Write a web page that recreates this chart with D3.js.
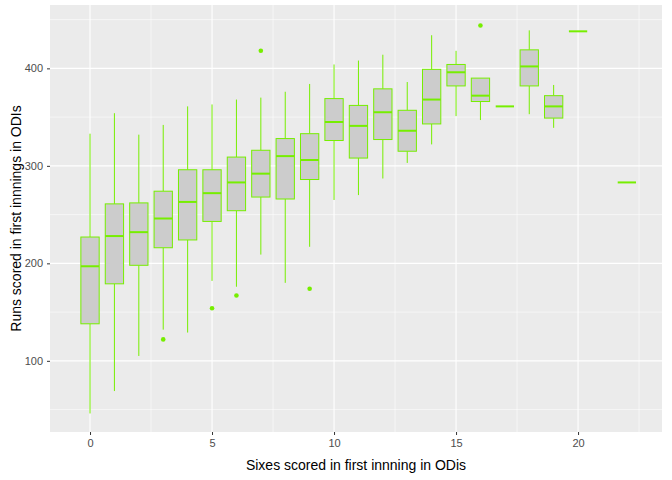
<!DOCTYPE html>
<html><head><meta charset="utf-8">
<script src="https://cdn.jsdelivr.net/npm/d3@7"></script>
<style>body{margin:0;background:#fff}text{font-family:Arial,"Liberation Sans",sans-serif}</style>
</head><body><svg id="c" width="672" height="480"></svg>
<script>
// sixes per innings and the box stats [low, q1, median, q3, high]
var sixes = [0,1,2,3,4,5,6,7,8,9,10,11,12,13,14,15,16,17,18,19,20,22]
var lows  = [46,69,105,132,129,182,176,209,180,217,265,270,287,303,322,351,347,361,353,339,438,283]
var q1s   = [138,179,198,216,224,243,254,268,266,286,326,308,327,315,343,382,366,361,382,349,438,283]
var meds  = [197,228,232,246,263,272,283,292,310,306,345,341,355,336,368,396,372,361,402,361,438,283]
var q3s   = [227,261,262,274,296,296,309,316,328,333,369,362,379,357,399,404,390,361,419,372,438,283]
var highs = [333,354,332,342,361,363,368,370,376,384,404,408,414,386,434,418,390,361,439,383,438,283]
var outX  = [3,5,6,7,9,16]
var outY  = [122,154,167,418,174,444]
var xTicks = [0,5,10,15,20]
var yTicks = [100,200,300,400]

var svg = d3.select("#c")
var L = 50, R = 662, T = 5, B = 432
var x = d3.scaleLinear().domain([-1.64, 23.44]).range([L, R])
var y = d3.scaleLinear().domain([27, 465]).range([B, T])

svg.append("rect").attr("x", L).attr("y", T).attr("width", R-L).attr("height", B-T).attr("fill", "#EBEBEB")
var g = svg.append("g")
;[-2.5,2.5,7.5,12.5,17.5,22.5].forEach(function(v){
  if (x(v) > L && x(v) < R) g.append("line").attr("x1", x(v)).attr("x2", x(v)).attr("y1", T).attr("y2", B).attr("stroke", "#fff").attr("stroke-width", 0.55)
})
;[50,150,250,350,450].forEach(function(v){
  g.append("line").attr("x1", L).attr("x2", R).attr("y1", y(v)).attr("y2", y(v)).attr("stroke", "#fff").attr("stroke-width", 0.55)
})
xTicks.forEach(function(v){
  g.append("line").attr("x1", x(v)).attr("x2", x(v)).attr("y1", T).attr("y2", B).attr("stroke", "#fff").attr("stroke-width", 1.1)
})
yTicks.forEach(function(v){
  g.append("line").attr("x1", L).attr("x2", R).attr("y1", y(v)).attr("y2", y(v)).attr("stroke", "#fff").attr("stroke-width", 1.1)
})

var green = "#76EE00"
var hw = 0.375
var boxes = svg.append("g")
sixes.forEach(function(s, i){
  var cx = x(s)
  boxes.append("line").attr("x1", cx).attr("x2", cx).attr("y1", y(highs[i])).attr("y2", y(q3s[i])).attr("stroke", green).attr("stroke-width", 1)
  boxes.append("line").attr("x1", cx).attr("x2", cx).attr("y1", y(q1s[i])).attr("y2", y(lows[i])).attr("stroke", green).attr("stroke-width", 1)
  boxes.append("rect").attr("x", x(s-hw)).attr("width", x(s+hw)-x(s-hw))
    .attr("y", y(q3s[i])).attr("height", Math.max(0, y(q1s[i])-y(q3s[i])))
    .attr("fill", "#CCCCCC").attr("stroke", green).attr("stroke-width", 1)
  boxes.append("line").attr("x1", x(s-hw)).attr("x2", x(s+hw)).attr("y1", y(meds[i])).attr("y2", y(meds[i])).attr("stroke", green).attr("stroke-width", 2)
})
outX.forEach(function(s, i){
  boxes.append("circle").attr("cx", x(s)).attr("cy", y(outY[i])).attr("r", 2.3).attr("fill", green)
})

var ax = svg.append("g").attr("transform", "translate(0," + B + ")")
  .call(d3.axisBottom(x).tickValues(xTicks).tickSize(3).tickPadding(4))
var ay = svg.append("g").attr("transform", "translate(" + L + ",0)")
  .call(d3.axisLeft(y).tickValues(yTicks).tickSize(3).tickPadding(4))
;[ax, ay].forEach(function(a){
  a.select(".domain").remove()
  a.selectAll("line").attr("stroke", "#333")
  a.selectAll("text").attr("fill", "#4D4D4D").style("font-size", "11px")
})

svg.append("text").attr("x", (L+R)/2).attr("y", 470).attr("text-anchor", "middle")
  .style("font-size", "14px").text("Sixes scored in first innning in ODis")
svg.append("text").attr("transform", "translate(21," + (T+B)/2 + ") rotate(-90)").attr("text-anchor", "middle")
  .style("font-size", "14px").text("Runs scored in first innnings in ODIs")
</script></body></html>
